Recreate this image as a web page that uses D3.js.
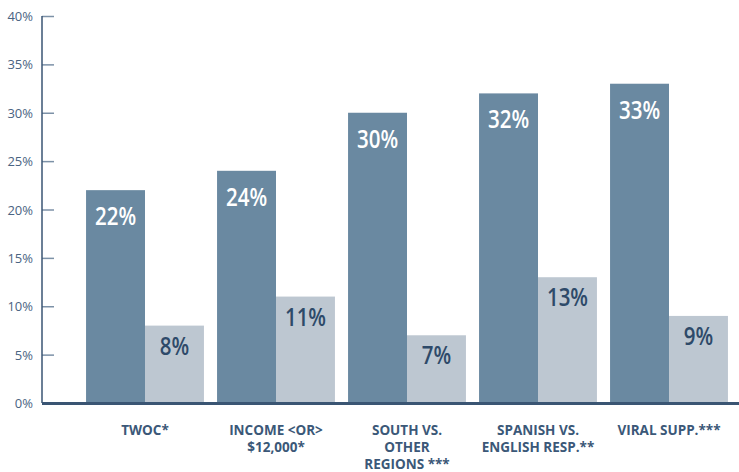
<!DOCTYPE html>
<html>
<head>
<meta charset="utf-8">
<script src="https://cdn.jsdelivr.net/npm/d3@7"></script>
<style>
  body { margin: 0; background: #fff; }
  svg { display: block; }
</style>
</head>
<body>
<div id="chart"></div>
<script>
// chart data
var categories = [
    ["TWOC*"],
    ["INCOME <OR>", "$12,000*"],
    ["SOUTH VS.", "OTHER", "REGIONS ***"],
    ["SPANISH VS.", "ENGLISH RESP.**"],
    ["VIRAL SUPP.***"]
];
var seriesA = [22, 24, 30, 32, 33];
var seriesB = [8, 11, 7, 13, 9];
var yTicks = [0, 5, 10, 15, 20, 25, 30, 35, 40];

var width = 739, height = 472;
var navy = "#3a5573";

var svg = d3.select("#chart").append("svg")
    .attr("width", width).attr("height", height);

var x0 = d3.scaleBand()
    .domain(d3.range(categories.length))
    .range([79.5, 734.5])
    .paddingInner(0.1)
    .paddingOuter(0.05);

var x1 = d3.scaleBand()
    .domain(["a", "b"])
    .range([0, x0.bandwidth()]);

var y = d3.scaleLinear()
    .domain([0, 40])
    .range([403, 16]);

// y axis
var yAxis = svg.append("g")
    .attr("transform", "translate(42,0)")
    .call(d3.axisRight(y)
        .tickValues(yTicks)
        .tickSize(12)
        .tickFormat(""));
yAxis.select(".domain").remove();
yAxis.selectAll(".tick line")
    .attr("stroke", "#7c91a7")
    .attr("stroke-width", 1.5);

svg.append("line")
    .attr("x1", 42).attr("x2", 42)
    .attr("y1", y(40)).attr("y2", y(0))
    .attr("stroke", navy)
    .attr("stroke-width", 1.5);

svg.selectAll(".ylab")
    .data(yTicks)
    .enter().append("text")
    .attr("class", "ylab")
    .attr("x", 33)
    .attr("y", function(d) { return y(d) + 5; })
    .attr("text-anchor", "end")
    .style("font-family", "'Open Sans', sans-serif")
    .style("font-size", "13px")
    .style("fill", "#4a6482")
    .text(function(d) { return d + "%"; });

// bars
var groups = svg.selectAll(".grp")
    .data(categories)
    .enter().append("g")
    .attr("class", "grp")
    .attr("transform", function(d, i) { return "translate(" + x0(i) + ",0)"; });

groups.append("rect")
    .attr("x", x1("a"))
    .attr("width", x1.bandwidth())
    .attr("y", function(d, i) { return y(seriesA[i]); })
    .attr("height", function(d, i) { return y(0) - y(seriesA[i]); })
    .attr("fill", "#6a89a1");

groups.append("rect")
    .attr("x", x1("b"))
    .attr("width", x1.bandwidth())
    .attr("y", function(d, i) { return y(seriesB[i]); })
    .attr("height", function(d, i) { return y(0) - y(seriesB[i]); })
    .attr("fill", "#bdc7d1");

// value labels (narrowed with a horizontal scale)
function valueLabel(sel, vals, key, dy, color) {
    sel.append("text")
        .attr("transform", function(d, i) {
            return "translate(" + (x1(key) + x1.bandwidth() / 2) + "," + (y(vals[i]) + dy) + ") scale(0.82,1)";
        })
        .attr("text-anchor", "middle")
        .style("font-family", "'Open Sans', sans-serif")
        .style("font-weight", "600")
        .style("font-size", "25px")
        .style("fill", color)
        .text(function(d, i) { return vals[i] + "%"; });
}
valueLabel(groups, seriesA, "a", 35, "#fff");
valueLabel(groups, seriesB, "b", 29, "#2e4a69");

// baseline
svg.append("line")
    .attr("x1", 42).attr("x2", width)
    .attr("y1", y(0) + 0.5).attr("y2", y(0) + 0.5)
    .attr("stroke", navy)
    .attr("stroke-width", 3);

// category labels
var catText = groups.append("text")
    .attr("text-anchor", "middle")
    .style("font-family", "'Open Sans', sans-serif")
    .style("font-weight", "bold")
    .style("font-size", "13.5px")
    .style("fill", "#3b5878");

catText.selectAll("tspan")
    .data(function(d) { return d; })
    .enter().append("tspan")
    .attr("x", x0.bandwidth() / 2)
    .attr("y", function(d, j) { return 435 + j * 17; })
    .text(function(d) { return d; });
</script>
</body>
</html>
